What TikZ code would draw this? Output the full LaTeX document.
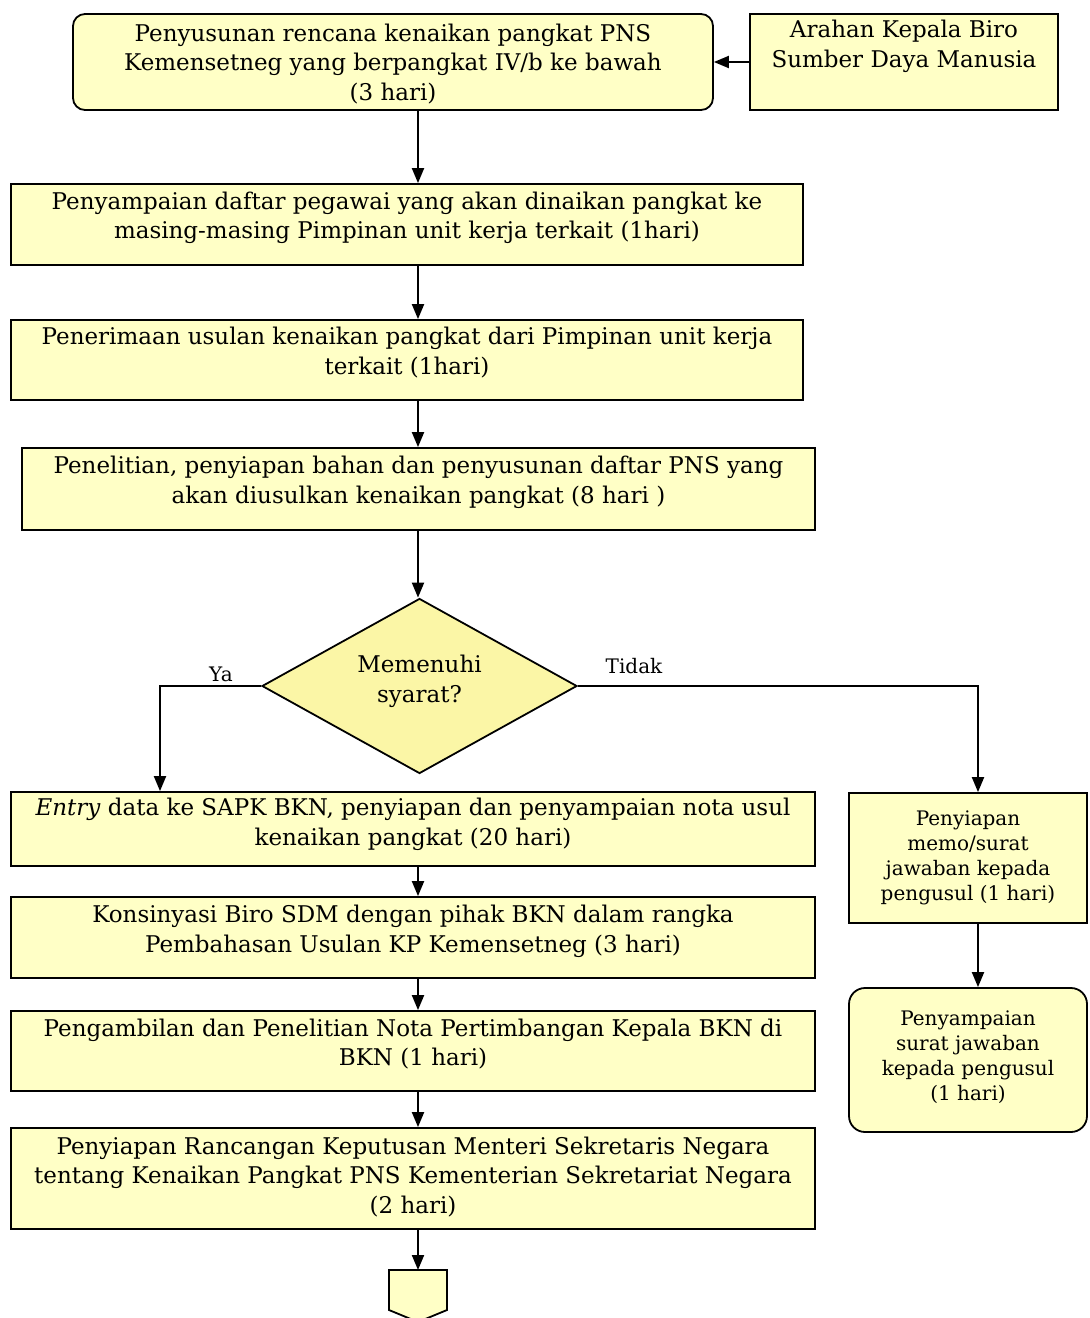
\documentclass[tikz,border=0pt]{standalone}
\usepackage{fontspec}
\setmainfont{DejaVu Serif}
\usetikzlibrary{arrows.meta,shapes.geometric}

\definecolor{boxfill}{HTML}{FFFFC6}
\definecolor{decfill}{HTML}{FBF6A6}

\tikzset{
  procbox/.style={draw=black,line width=1.8pt,fill=boxfill,align=center,
    font=\fontsize{23}{29.5}\selectfont,inner sep=2pt},
  sidebox/.style={procbox,font=\fontsize{20}{25}\selectfont},
  flowline/.style={line width=2pt,-{Triangle[length=15pt,width=12pt]}},
  branchlabel/.style={font=\fontsize{20}{24}\selectfont},
}

\begin{document}
\begin{tikzpicture}[x=1pt,y=-1pt]
\useasboundingbox (0,0) rectangle (1090,1318);
\node[procbox,rounded corners=12pt,minimum width=640,minimum height=96,text depth=-2pt] (plan) at (393,62) {Penyusunan rencana kenaikan pangkat PNS\\Kemensetneg yang berpangkat IV/b ke bawah\\(3 hari)}; % plan
\node[procbox,minimum width=308,minimum height=96,text depth=36pt] (arahan) at (904,62) {Arahan Kepala Biro\\Sumber Daya Manusia}; % arahan
\node[procbox,minimum width=792,minimum height=81,text depth=18pt] (kirim) at (407,224.5) {Penyampaian daftar pegawai yang akan dinaikan pangkat ke\\masing-masing Pimpinan unit kerja terkait (1hari)}; % kirim
\node[procbox,minimum width=792,minimum height=80,text depth=18pt] (terima) at (407,360) {Penerimaan usulan kenaikan pangkat dari Pimpinan unit kerja\\terkait (1hari)}; % terima
\node[procbox,minimum width=793,minimum height=82,text depth=18pt] (teliti) at (418.5,489) {Penelitian, penyiapan bahan dan penyusunan daftar PNS yang\\akan diusulkan kenaikan pangkat (8 hari )}; % teliti
\node[procbox,diamond,fill=decfill,minimum width=315,minimum height=175,inner sep=-6pt,text depth=14pt] (syarat) at (419.5,686) {Memenuhi\\syarat?}; % syarat
\node[procbox,minimum width=804,minimum height=74,text depth=14pt] (entry) at (413,829) {\textit{Entry} data ke SAPK BKN, penyiapan dan penyampaian nota usul\\kenaikan pangkat (20 hari)}; % entry
\node[procbox,minimum width=804,minimum height=81,text depth=18pt] (konsin) at (413,937.5) {Konsinyasi Biro SDM dengan pihak BKN dalam rangka\\Pembahasan Usulan KP Kemensetneg (3 hari)}; % konsin
\node[procbox,minimum width=804,minimum height=80,text depth=18pt] (ambil) at (413,1051) {Pengambilan dan Penelitian Nota Pertimbangan Kepala BKN di\\BKN (1 hari)}; % ambil
\node[procbox,minimum width=804,minimum height=101,text depth=7pt] (rancang) at (413,1178.5) {Penyiapan Rancangan Keputusan Menteri Sekretaris Negara\\tentang Kenaikan Pangkat PNS Kementerian Sekretariat Negara\\(2 hari)}; % rancang
\node[sidebox,minimum width=238,minimum height=130] (memo) at (968,858) {Penyiapan\\memo/surat\\jawaban kepada\\pengusul (1 hari)}; % memo
\node[sidebox,rounded corners=16pt,minimum width=238,minimum height=144,text depth=8pt] (jawab) at (968,1060) {Penyampaian\\surat jawaban\\kepada pengusul\\(1 hari)}; % jawab
\coordinate (offpage) at (418,1270); % offpage
\draw[line width=1.8pt,fill=boxfill] (389,1270) -- (447,1270) -- (447,1310) -- (418,1322) -- (389,1310) -- cycle; % offpage
\draw[flowline] (arahan.west) -- (plan.east); % arahan
\draw[flowline] (plan.south -| 418,0) -- (kirim.north -| 418,0); % plan
\draw[flowline] (kirim.south -| 418,0) -- (terima.north -| 418,0); % kirim
\draw[flowline] (terima.south -| 418,0) -- (teliti.north -| 418,0); % terima
\draw[flowline] (teliti.south -| 418,0) -- (syarat.north -| 418,0); % teliti
\draw[flowline] (syarat.west) -- (160,686) -- (entry.north -| 160,0); % ya
\draw (221,674) node[branchlabel] {Ya}; % ya
\draw[flowline] (syarat.east) -- (978,686) -- (memo.north -| 978,0); % tidak
\draw (634,666) node[branchlabel] {Tidak}; % tidak
\draw[flowline] (entry.south -| 418,0) -- (konsin.north -| 418,0); % entry
\draw[flowline] (konsin.south -| 418,0) -- (ambil.north -| 418,0); % konsin
\draw[flowline] (ambil.south -| 418,0) -- (rancang.north -| 418,0); % ambil
\draw[flowline] (rancang.south -| 418,0) -- (offpage); % rancang
\draw[flowline] (memo.south -| 978,0) -- (jawab.north -| 978,0); % memo
\end{tikzpicture}
\end{document}
